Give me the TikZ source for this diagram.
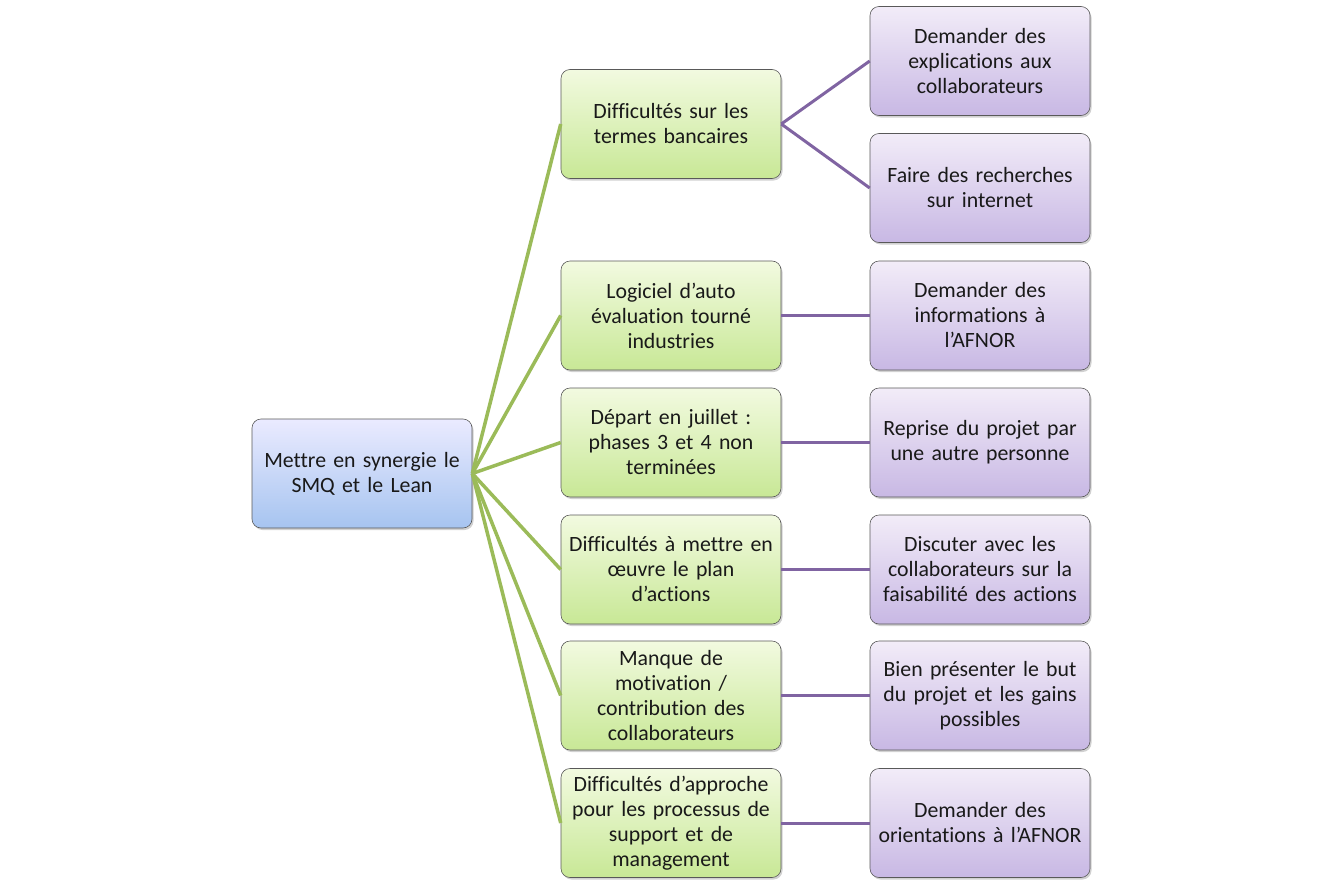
\documentclass[tikz,border=0pt]{standalone}
\usepackage{fontspec}
\setmainfont{Carlito}[Ligatures={NoCommon}]
\usetikzlibrary{shadows}
\definecolor{gline}{HTML}{9BBB59}
\definecolor{pline}{HTML}{8064A2}
\tikzset{
  box/.style={draw=black!65, line width=0.6pt, rounded corners=9pt, minimum width=220pt, minimum height=109pt,
    align=center, text width=216pt, inner xsep=2pt, font=\fontsize{21.8}{25}\selectfont, text=black!90,
    drop shadow={shadow xshift=1.5pt, shadow yshift=-2pt, opacity=0.3, fill=black!60}},
  rootbox/.style={box, top color=blue!8!white, bottom color={rgb,255:red,166;green,196;blue,240}},
  gbox/.style={box, top color={rgb,255:red,242;green,250;blue,224}, bottom color={rgb,255:red,200;green,232;blue,150}},
  pbox/.style={box, top color={rgb,255:red,242;green,236;blue,248}, bottom color={rgb,255:red,200;green,184;blue,228}},
  gedge/.style={draw=gline, line width=3.5pt},
  pedge/.style={draw=pline, line width=3pt},
}
\begin{document}
\begin{tikzpicture}[x=1pt,y=-1pt]
\useasboundingbox (0,0) rectangle (1344,891);
\node[rootbox] (r) at (362,473.5) {Mettre en synergie le\\SMQ et le Lean};
\node[gbox] (g1) at (671,124) {Difficultés sur les\\termes bancaires};
\node[gbox] (g2) at (671,315.5) {Logiciel d’auto\\évaluation tourné\\industries};
\node[gbox] (g3) at (671,442.5) {Départ en juillet :\\phases 3 et 4 non\\terminées};
\node[gbox] (g4) at (671,569.5) {Difficultés à mettre en\\œuvre le plan\\d’actions};
\node[gbox] (g5) at (671,695.5) {Manque de\\motivation /\\contribution des\\collaborateurs};
\node[gbox] (g6) at (671,823) {Difficultés d’approche\\pour les processus de\\support et de\\management};
\node[pbox] (p1) at (980,61) {Demander des\\explications aux\\collaborateurs};
\node[pbox] (p2) at (980,188) {Faire des recherches\\sur internet};
\node[pbox] (p3) at (980,315.5) {Demander des\\informations à\\l’AFNOR};
\node[pbox] (p4) at (980,442.5) {Reprise du projet par\\une autre personne};
\node[pbox] (p5) at (980,569.5) {Discuter avec les\\collaborateurs sur la\\faisabilité des actions};
\node[pbox] (p6) at (980,695.5) {Bien présenter le but\\du projet et les gains\\possibles};
\node[pbox] (p7) at (980,823) {Demander des\\orientations à l’AFNOR};
\foreach \g in {g1,g2,g3,g4,g5,g6} \draw[gedge] (r.east) -- (\g.west);
\draw[pedge] (g1.east) -- (p1.west);
\draw[pedge] (g1.east) -- (p2.west);
\draw[pedge] (g2.east) -- (p3.west);
\draw[pedge] (g3.east) -- (p4.west);
\draw[pedge] (g4.east) -- (p5.west);
\draw[pedge] (g5.east) -- (p6.west);
\draw[pedge] (g6.east) -- (p7.west);
\end{tikzpicture}
\end{document}
